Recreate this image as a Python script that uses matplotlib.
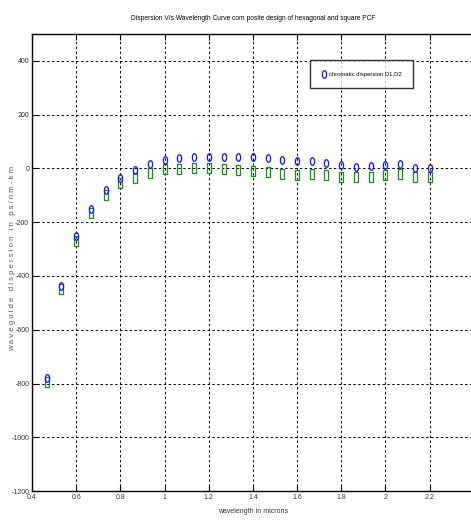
import matplotlib.pyplot as plt
from matplotlib.path import Path
from matplotlib.transforms import Affine2D

plt.rcParams['font.family'] = ['Liberation Sans Narrow', 'Liberation Sans', 'DejaVu Sans']
plt.rcParams['axes.unicode_minus'] = False

# wavelength (microns)
wavelength = [0.467, 0.533, 0.600, 0.667, 0.733, 0.800, 0.867, 0.933, 1.000,
              1.067, 1.133, 1.200, 1.267, 1.333, 1.400, 1.467, 1.533, 1.600,
              1.667, 1.733, 1.800, 1.867, 1.933, 2.000, 2.067, 2.133, 2.200]

# dispersion D1 (blue circles) and D2 (green squares), ps/nm-km
d1 = [-781, -437, -250, -150, -81, -36, -7, 17, 30,
      37, 41, 44, 44, 44, 41, 37, 30, 26,
      26, 22, 12, 7, 10, 14, 15, 1, 2]
d2 = [-793, -449, -270, -165, -100, -54, -35, -16, -1,
      -2, 2, 2, -2, -5, -10, -12, -20, -23,
      -22, -26, -30, -33, -30, -23, -20, -30, -30]

xticks = [0.4, 0.6, 0.8, 1, 1.2, 1.4, 1.6, 1.8, 2, 2.2]
xticklabels = ['0.4', '0.6', '0.8', '1', '1.2', '1.4', '1.6', '1.8', '2', '2.2']
yticks = [-1200, -1000, -800, -600, -400, -200, 0, 200, 400]

# tall narrow markers like the squashed matlab export
ellipse = Path.unit_circle().transformed(Affine2D().scale(0.55, 1.0))
rect = Path.unit_rectangle().transformed(Affine2D().translate(-0.5, -0.5).scale(0.5, 1.0))

fig = plt.figure(figsize=(4.71, 5.23), dpi=100)
ax = fig.add_axes([0.068, 0.061, 0.938, 0.874])

ax.plot(wavelength, d2, linestyle='none', marker=rect, markersize=6.5,
        markerfacecolor='none', markeredgecolor='#1a8a1a', markeredgewidth=0.9)
ax.plot(wavelength, d1, linestyle='none', marker=ellipse, markersize=5.5,
        markerfacecolor='none', markeredgecolor='#1010ff', markeredgewidth=0.9,
        label='chromatic dispersion D1,D2')

ax.set_xlim(0.4, 2.4)
ax.set_ylim(-1200, 500)
ax.set_xticks(xticks)
ax.set_xticklabels(xticklabels)
ax.set_yticks(yticks)
ax.tick_params(direction='in', length=4, labelsize=5, labelcolor='#333333',
               top=True, right=False, width=0.8, pad=2)
ax.grid(True, color='black', linestyle=(0, (2.5, 2.5)), linewidth=0.7)
for s in ax.spines.values():
    s.set_linewidth(1.0)

ax.set_title('Dispersion V/s Wavelength Curve com posite design of hexagonal and square PCF',
             fontsize=4.8, pad=10)
ax.set_xlabel('wavelength in microns', fontsize=5, labelpad=5, color='#333333')
ax.set_ylabel('w a v e g u i d e   d i s p e r s i o n   i n   p s / n m - k m',
              fontsize=5.6, color='#555555')
ax.yaxis.set_label_coords(-0.036, 0.51)

leg = ax.legend(loc='upper left', bbox_to_anchor=(0.629, 0.943), fontsize=4.2,
                frameon=True, fancybox=False, borderpad=2.0, handlelength=0.9,
                handletextpad=0.4, borderaxespad=0)
leg.get_frame().set_edgecolor('black')
leg.get_frame().set_linewidth(1.0)

fig.savefig('out.png', dpi=100)
